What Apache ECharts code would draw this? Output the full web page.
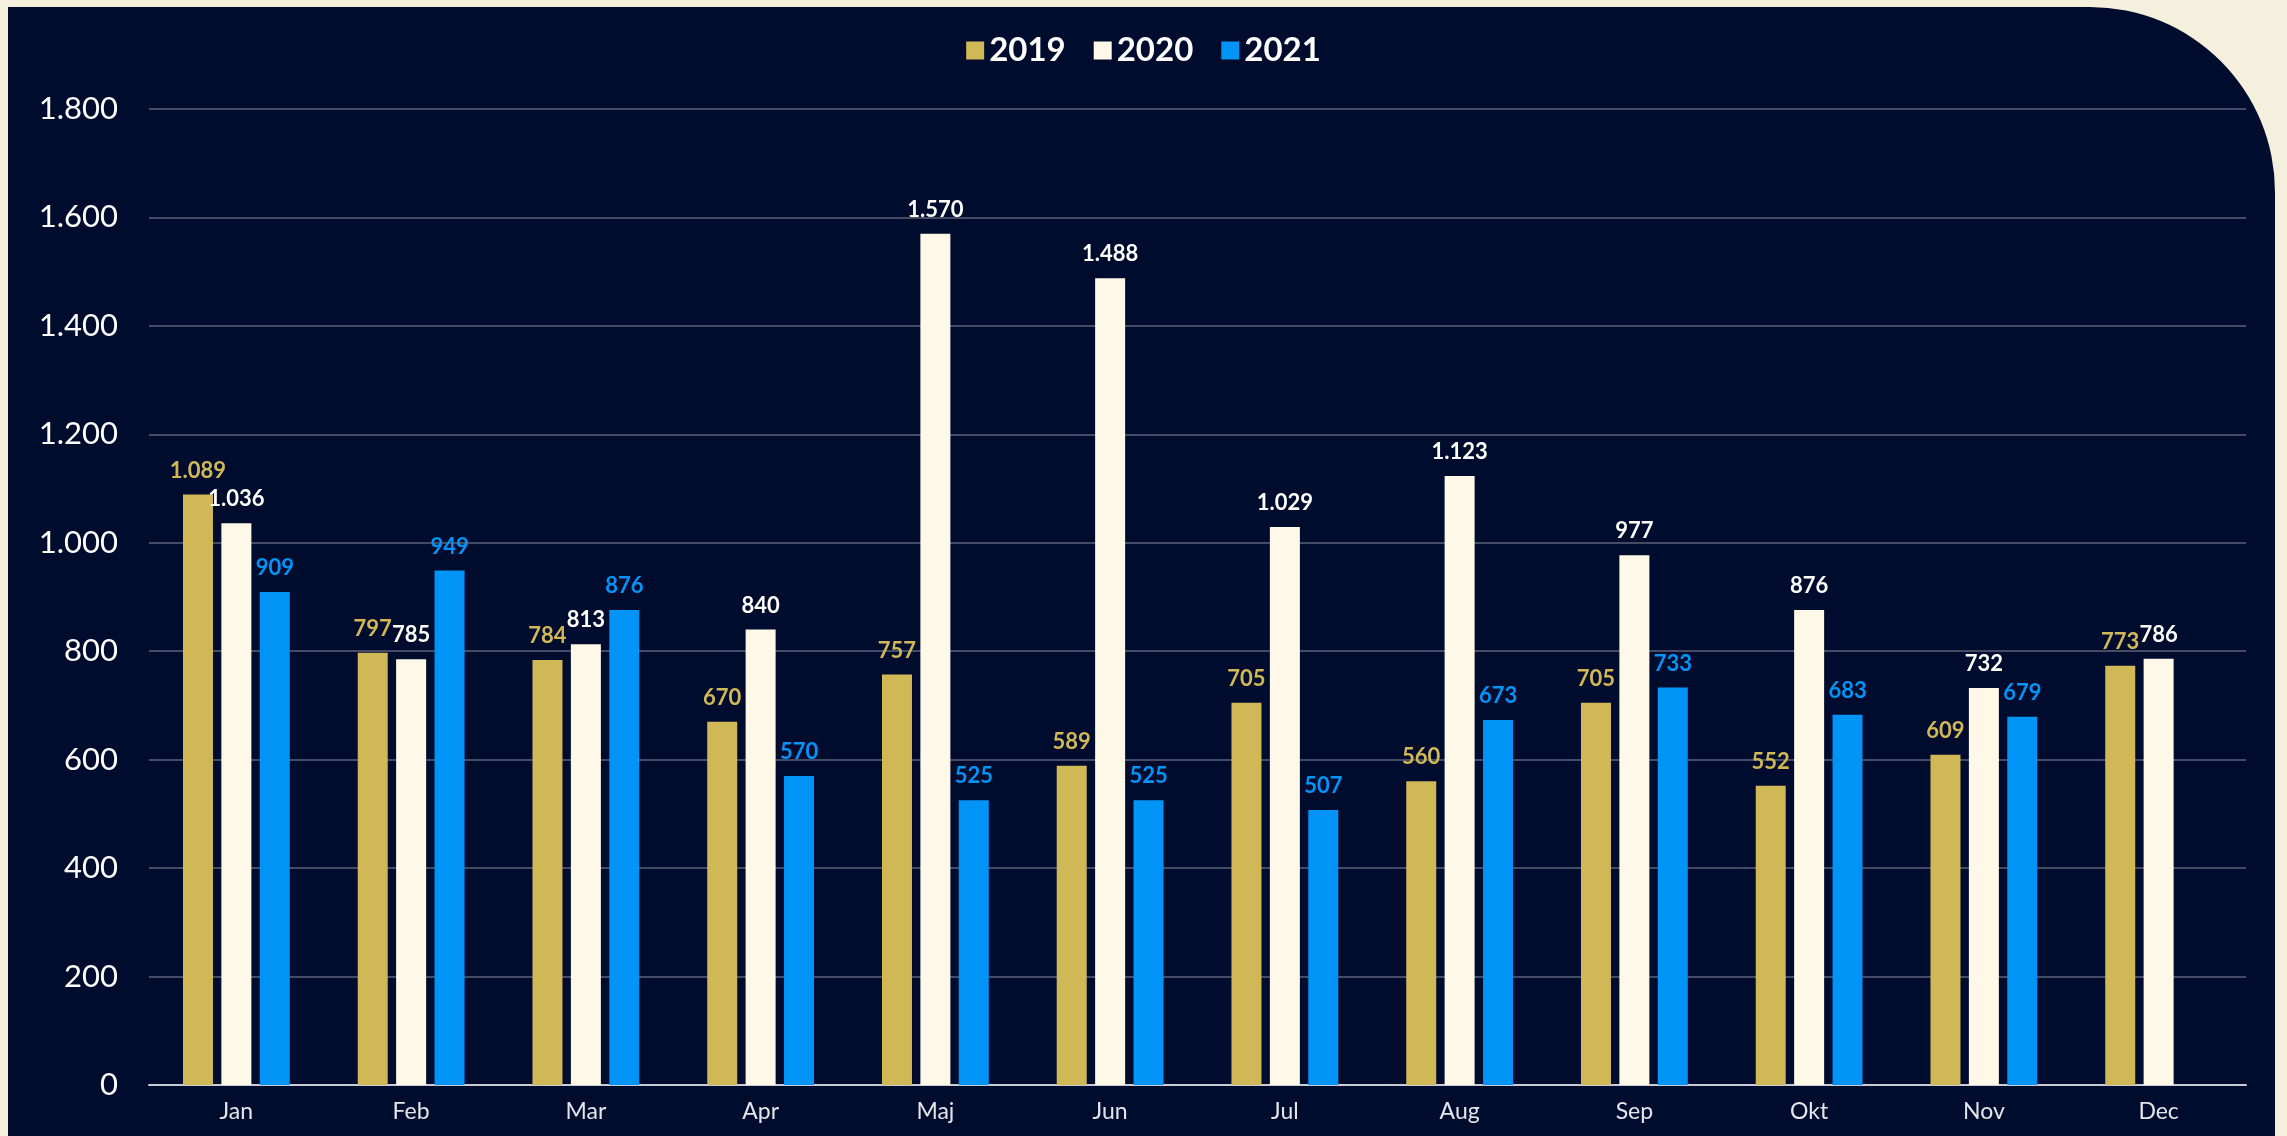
<!DOCTYPE html>
<html>
<head>
<meta charset="utf-8">
<script src="https://cdn.jsdelivr.net/npm/echarts@6/dist/echarts.min.js"></script>
<style>
html,body{margin:0;padding:0;width:2287px;height:1136px;background:#f5f0dd;overflow:hidden;}
#panel{position:absolute;left:8px;top:7px;width:2267px;height:1129px;background:#000c2d;border-top-right-radius:185px;}
#chart{position:absolute;left:0;top:0;width:2287px;height:1136px;}
</style>
</head>
<body>
<div id="panel"></div>
<div id="chart"></div>
<script>
const categories = ['Jan','Feb','Mar','Apr','Maj','Jun','Jul','Aug','Sep','Okt','Nov','Dec'];
const seriesNames = ['2019','2020','2021'];
const values2019 = [1089, 797, 784, 670, 757, 589, 705, 560, 705, 552, 609, 773];
const values2020 = [1036, 785, 813, 840, 1570, 1488, 1029, 1123, 977, 876, 732, 786];
const values2021 = [909, 949, 876, 570, 525, 525, 507, 673, 733, 683, 679, null];
const colors = ['#d1b857', '#fdf8e7', '#0094f7'];
const labelColors = ['#d1b857', '#ffffff', '#0094f7'];

function fmt(v){
  return String(v).replace(/\B(?=(\d{3})+(?!\d))/g, '.');
}

const chart = echarts.init(document.getElementById('chart'), null, {renderer:'canvas'});
const data = [values2019, values2020, values2021];
chart.setOption({
  backgroundColor: 'transparent',
  animation: false,
  textStyle: {fontFamily: 'Lato'},
  legend: {
    top: 29,
    left: 'center',
    itemWidth: 18,
    itemHeight: 18,
    itemGap: 28,
    icon: 'rect',
    textStyle: {color: '#ffffff', fontSize: 33, fontWeight: 'bold', fontFamily: 'Lato', padding: [0,0,0,0]},
    data: seriesNames
  },
  grid: {left: 149, right: 41, top: 109, bottom: 51, containLabel: false},
  xAxis: {
    type: 'category',
    data: categories,
    axisLine: {lineStyle: {color: '#c8ccd6', width: 2}},
    axisTick: {show: false},
    axisLabel: {color: '#e4e4ea', fontSize: 23, margin: 15, fontFamily: 'Lato'}
  },
  yAxis: {
    type: 'value',
    min: 0,
    max: 1800,
    interval: 200,
    axisLine: {show: false},
    axisTick: {show: false},
    splitLine: {lineStyle: {color: '#454b64', width: 2}},
    axisLabel: {color: '#ffffff', fontSize: 31, margin: 31, fontWeight: 'normal', fontFamily: 'Lato', formatter: v => fmt(v)}
  },
  series: seriesNames.map((n, i) => ({
    name: n,
    type: 'bar',
    data: data[i],
    barWidth: 30,
    barGap: '28%',
    itemStyle: {color: colors[i]},
    label: {
      show: true,
      position: 'top',
      distance: 13,
      color: labelColors[i],
      fontSize: 22,
      fontWeight: 'bold',
      fontFamily: 'Lato',
      formatter: p => p.value == null ? '' : fmt(p.value)
    }
  }))
});
</script>
</body>
</html>
